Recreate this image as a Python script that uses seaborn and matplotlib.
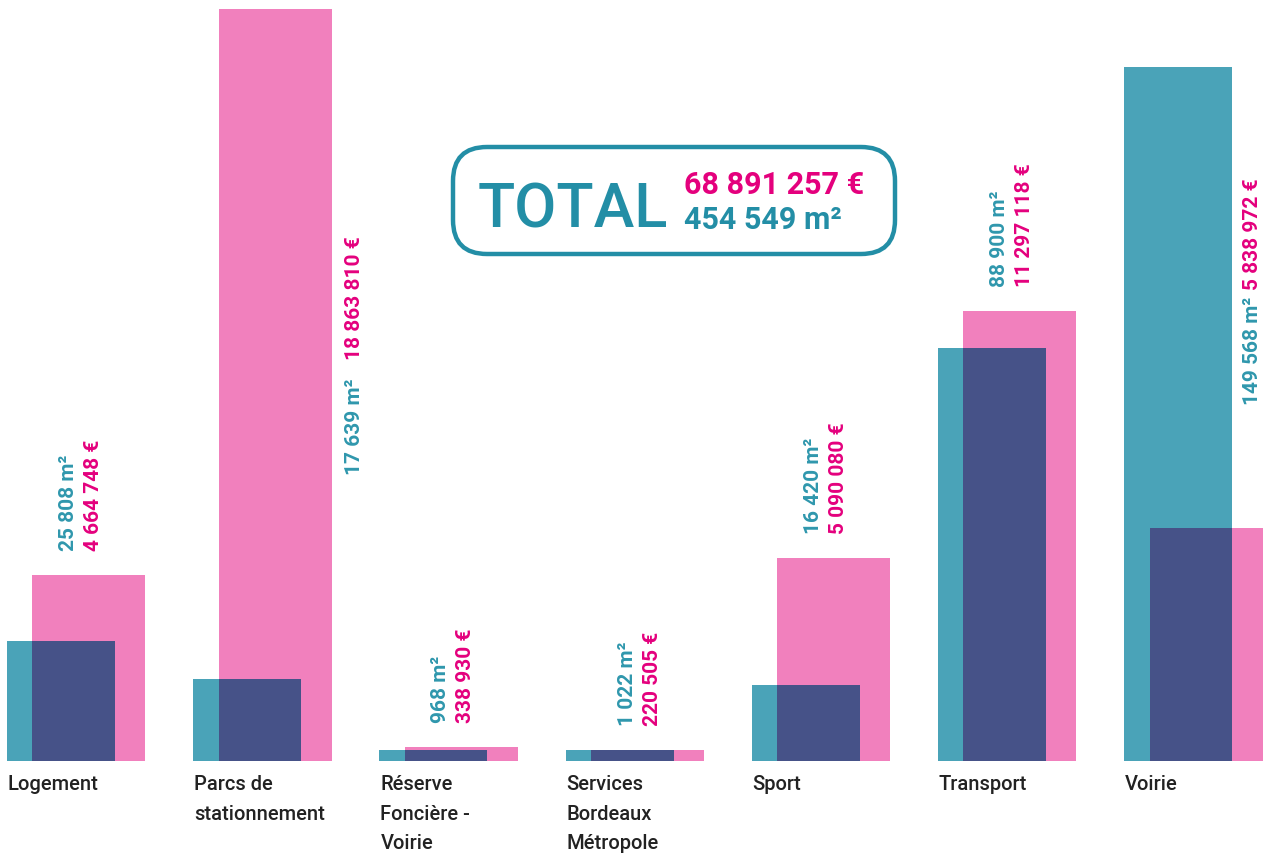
import matplotlib
matplotlib.use("Agg")
import matplotlib.pyplot as plt
import numpy as np
import seaborn as sns
from matplotlib.patches import FancyBboxPatch
from matplotlib.transforms import IdentityTransform

# data
categories = [
    "Logement",
    "Parcs de\nstationnement",
    "Réserve\nFoncière -\nVoirie",
    "Services\nBordeaux\nMétropole",
    "Sport",
    "Transport",
    "Voirie",
]
surface_m2 = [25808, 17639, 968, 1022, 16420, 88900, 149568]
montant_eur = [4664748, 18863810, 338930, 220505, 5090080, 11297118, 5838972]
total_eur = 68891257
total_m2 = 454549

# style
TEAL = "#4aa3b8"
PINK = "#f180bd"
NAVY = "#465288"
TEAL_TXT = "#2f97ad"
PINK_TXT = "#e4007d"
BOX_TEAL = "#238ea6"

M2_TOP = 164000        # m2 at top of axes
EUR_TOP = 19090000     # euros at top of axes
MIN_H = 11 / 761       # minimum visible bar height

TEAL_W, PINK_W, PINK_SHIFT = 0.58, 0.607, 0.15

sns.set_theme(style="white")
plt.rcParams["font.family"] = ["Roboto", "DejaVu Sans"]


def fmt(v):
    return f"{v:,}".replace(",", " ")


idx = np.arange(len(categories))
teal_h = np.maximum(np.array(surface_m2) / M2_TOP, MIN_H)
pink_h = np.maximum(np.array(montant_eur) / EUR_TOP, MIN_H)
over_h = np.minimum(teal_h, pink_h)

over_left = PINK_SHIFT - PINK_W / 2
over_right = TEAL_W / 2
over_c = (over_left + over_right) / 2
over_w = over_right - over_left

fig = plt.figure(figsize=(12.75, 8.57), dpi=100)
ax = fig.add_axes([0, 96 / 857, 1, 761 / 857])

sns.barplot(x=idx.astype(float), y=teal_h, native_scale=True, width=TEAL_W,
            color=TEAL, saturation=1, errorbar=None, linewidth=0, ax=ax)
sns.barplot(x=idx + PINK_SHIFT, y=pink_h, native_scale=True, width=PINK_W,
            color=PINK, saturation=1, errorbar=None, linewidth=0, ax=ax)
sns.barplot(x=idx + over_c, y=over_h, native_scale=True, width=over_w,
            color=NAVY, saturation=1, errorbar=None, linewidth=0, ax=ax)

x0 = -61 / 186.2
ax.set_xlim(x0, x0 + 1275 / 186.2)
ax.set_ylim(0, 1)
ax.axis("off")

# category labels
for i, cat in enumerate(categories):
    ax.text(i - TEAL_W / 2 + 0.005, -0.019, cat, ha="left", va="top",
            fontsize=14.5, fontweight="medium", color="#222222",
            linespacing=1.68, clip_on=False)

# value labels
gap = 24 / 761
side = {1: (0.575, 0.376, 0.527), 6: (0.40, 0.468, 0.619)}
for i in idx:
    m2_txt = fmt(surface_m2[i]) + " m²"
    eur_txt = fmt(montant_eur[i]) + " €"
    if i in side:
        dx, y_t, y_p = side[i]
        ax.text(i + dx, y_t, m2_txt, rotation=90, ha="center", va="bottom",
                fontsize=15, fontweight="bold", color=TEAL_TXT)
        ax.text(i + dx, y_p, eur_txt, rotation=90, ha="center", va="bottom",
                fontsize=15, fontweight="bold", color=PINK_TXT)
    else:
        y = max(teal_h[i], pink_h[i]) + gap
        ax.text(i + 0.04, y, m2_txt, rotation=90, ha="center", va="bottom",
                fontsize=15, fontweight="bold", color=TEAL_TXT)
        ax.text(i + 0.175, y, eur_txt, rotation=90, ha="center", va="bottom",
                fontsize=15, fontweight="bold", color=PINK_TXT)

# total box (pixel coordinates, origin bottom-left)
H = 857
px = IdentityTransform()
box = FancyBboxPatch((453 + 34, H - 254 + 34), 442 - 68, 107 - 68,
                     boxstyle="round,pad=34", transform=px,
                     facecolor="white", edgecolor=BOX_TEAL, linewidth=3.2)
fig.patches.append(box)
fig.text(478, H - 227, "TOTAL", transform=px, ha="left", va="baseline",
         fontsize=44, fontweight="medium", color=BOX_TEAL)
fig.text(684, H - 194, fmt(total_eur) + " €", transform=px, ha="left",
         va="baseline", fontsize=22, fontweight="bold", color=PINK_TXT)
fig.text(684, H - 229, fmt(total_m2) + " m²", transform=px, ha="left",
         va="baseline", fontsize=22, fontweight="bold", color=BOX_TEAL)

fig.savefig("out.png", dpi=100)
